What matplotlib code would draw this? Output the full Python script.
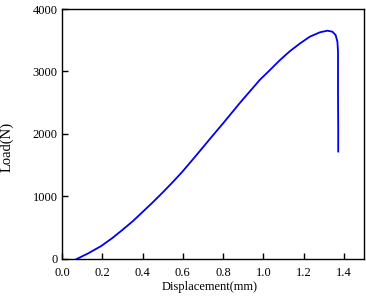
import matplotlib
matplotlib.use("Agg")
import matplotlib.pyplot as plt

# load-displacement curve
displacement = [0.073, 0.13, 0.195, 0.25, 0.30, 0.35, 0.395, 0.45, 0.50, 0.55, 0.596,
                0.65, 0.696, 0.75, 0.80, 0.882, 0.982, 1.033, 1.083, 1.133, 1.183,
                1.231, 1.281, 1.318, 1.343, 1.359, 1.368, 1.371, 1.371, 1.372, 1.372]
load = [0, 90, 208, 335, 465, 600, 736, 904, 1064, 1230, 1390,
        1594, 1771, 1980, 2170, 2491, 2864, 3024, 3184, 3328, 3451,
        3557, 3627, 3653, 3637, 3584, 3477, 3317, 2624, 2100, 1720]

x_ticks = [0.0, 0.2, 0.4, 0.6, 0.8, 1.0, 1.2, 1.4]
y_ticks = [0, 1000, 2000, 3000, 4000]

plt.rcParams['font.family'] = ['Liberation Serif', 'DejaVu Serif']

fig = plt.figure(figsize=(3.66, 3.0), dpi=100)
ax = fig.add_axes([0.1694, 0.1367, 0.8251, 0.8333])

ax.plot(displacement, load, color='#0000ee', lw=1.3)

ax.set_xlim(0, 1.5)
ax.set_ylim(0, 4000)
ax.set_xticks(x_ticks)
ax.set_xticklabels([f"{t:.1f}" for t in x_ticks])
ax.set_yticks(y_ticks)

ax.tick_params(direction='in', length=4, width=1, labelsize=9, top=False, right=False)
ax.tick_params(axis='x', pad=6)
ax.tick_params(axis='y', pad=3)
for s in ax.spines.values():
    s.set_linewidth(1)

ax.set_xlabel("Displacement(mm)", fontsize=9)
ax.set_ylabel("Load(N)", fontsize=10.5)
ax.xaxis.set_label_coords(0.49, -0.09)
ax.yaxis.set_label_coords(-0.16, 0.45)

fig.savefig("out.png", dpi=100)
